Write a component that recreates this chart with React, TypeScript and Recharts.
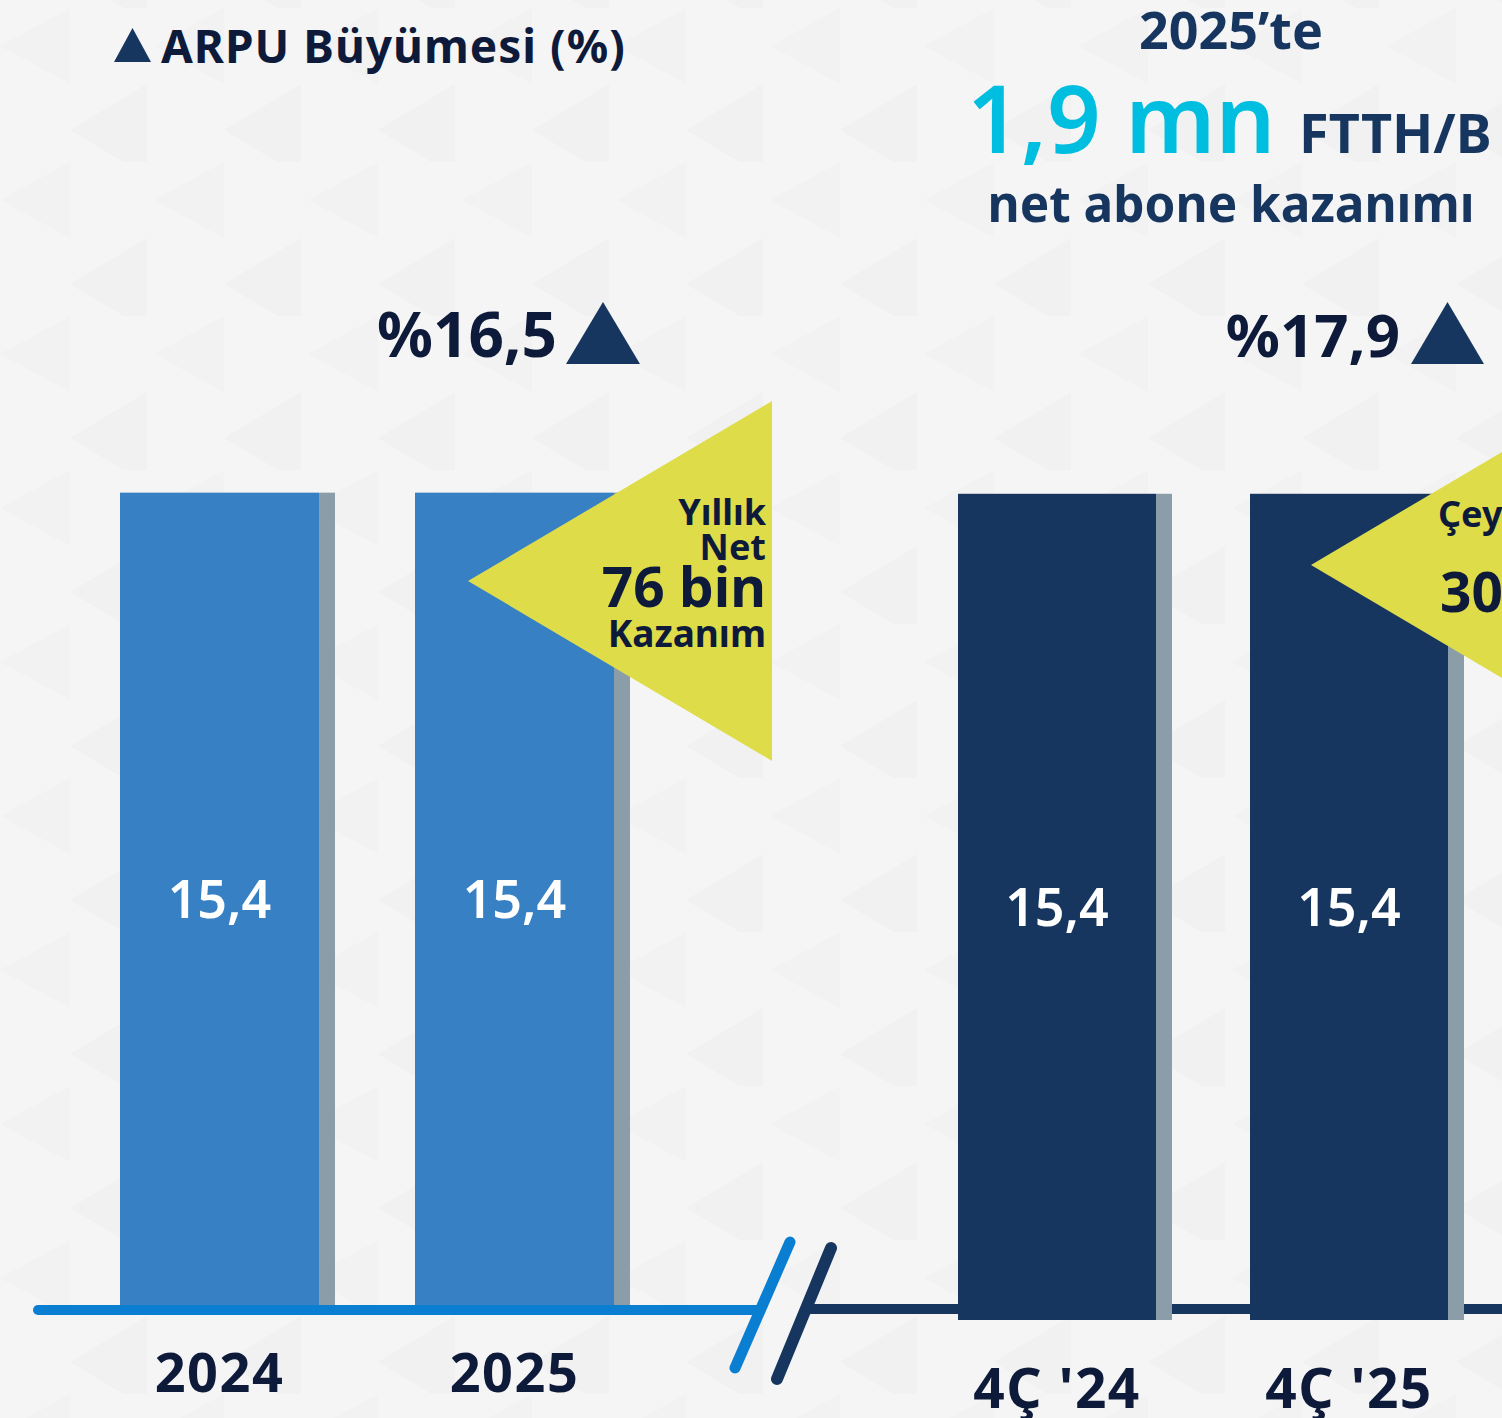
import React from 'react';
import { BarChart, Bar, XAxis, YAxis, LabelList } from 'recharts';

// annual bars (left panel) and quarterly bars (right panel)
const annualCategories = ['2024', '2025'];
const annualValues = [15.4, 15.4];
const quarterCategories = ["4Ç '24", "4Ç '25"];
const quarterValues = [15.4, 15.4];
const growthLabels = ['%16,5', '%17,9'];
const valueLabel = (v: number) => v.toFixed(1).replace('.', ',');

const FONT = '"Noto Sans", "Open Sans", sans-serif';
const NAVY = '#16365F';
const INK = '#0E1A3A';
const LIGHT = '#3880C4';
const SHADOW = '#8A9DA9';
const YELLOW = '#DFDC4A';

const annualData = annualCategories.map((name, i) => ({ name, value: annualValues[i] }));
const quarterData = quarterCategories.map((name, i) => ({ name, value: quarterValues[i] }));

const SHADE_W = 16;

const makeShape = (fill: string) => (props: any) => {
    const { x, y, width, height } = props;
    return (
        <g>
            <rect x={x + width - SHADE_W} y={y} width={SHADE_W} height={height} fill={SHADOW} />
            <rect x={x} y={y} width={width - SHADE_W} height={height} fill={fill} />
        </g>
    );
};

const makeTick = (dy: number, size: number) => (props: any) => {
    const { x, y, payload } = props;
    return (
        <text x={x - SHADE_W / 2} y={y + dy} textAnchor="middle" fill={INK}
            fontFamily={FONT} fontWeight={700} fontSize={size} letterSpacing={1.5}>
            {payload.value}
        </text>
    );
};

const renderValue = (props: any) => {
    const { x, y, width, height, value } = props;
    return (
        <text x={x + (width - SHADE_W) / 2} y={y + height / 2 + 19} textAnchor="middle"
            fill="#ffffff" fontFamily={FONT} fontWeight={600} fontSize={52}>
            {valueLabel(value)}
        </text>
    );
};

const Background = () => {
    return (
        <svg width={1502} height={1418} style={{ position: 'absolute', left: 0, top: 0 }}>
            <defs>
                <pattern id="tri" width={154} height={154} patternUnits="userSpaceOnUse" x={0} y={8}>
                    <polygon points="147,76 147,168 70,122" fill="#F1F1F1" />
                    <polygon points="70,0 70,76 0,38" fill="#F2F2F2" />
                </pattern>
            </defs>
            <rect width={1502} height={1418} fill="#F5F5F5" />
            <rect width={1502} height={1418} fill="url(#tri)" />
            <line x1={38} y1={1310} x2={760} y2={1310} stroke="#0A7FD2" strokeWidth={10} strokeLinecap="round" />
            <line x1={810} y1={1309} x2={1502} y2={1309} stroke={NAVY} strokeWidth={10} />
        </svg>
    );
};

const Overlay = () => {
    const tri1 = { tipX: 468, tipY: 581, right: 772, half: 180 };
    const tri2 = { tipX: 1311, tipY: 565, right: 1615, half: 180 };
    return (
        <svg width={1502} height={1418} style={{ position: 'absolute', left: 0, top: 0, pointerEvents: 'none' }}>
            {/* break marks */}
            <line x1={790} y1={1242} x2={735} y2={1368} stroke="#0A7FD2" strokeWidth={11} strokeLinecap="round" />
            <line x1={831} y1={1248} x2={777} y2={1379} stroke={NAVY} strokeWidth={12} strokeLinecap="round" />

            {/* legend */}
            <polygon points="114,62 132.5,28 151,62" fill={NAVY} />
            <text x={161} y={63} fill={INK} fontFamily={FONT} fontWeight={700} fontSize={46} letterSpacing={1}>ARPU Büyümesi (%)</text>

            {/* headline */}
            <text x={1231} y={49} textAnchor="middle" fill={NAVY} fontFamily={FONT} fontWeight={700} fontSize={52}>2025’te</text>
            <text x={967} y={153} fill="#00BEDF" fontFamily={FONT} fontWeight={600} fontSize={94}>1,9 mn</text>
            <text x={1299} y={153} fill={NAVY} fontFamily={FONT} fontWeight={700} fontSize={54}>FTTH/B</text>
            <text x={1231} y={222} textAnchor="middle" fill={NAVY} fontFamily={FONT} fontWeight={700} fontSize={49.5}>net abone kazanımı</text>

            {/* growth labels */}
            <text x={557} y={357} textAnchor="end" fill={INK} fontFamily={FONT} fontWeight={700} fontSize={62}>{growthLabels[0]}</text>
            <polygon points="566,364 603,302 640,364" fill={NAVY} />
            <text x={1400} y={357} textAnchor="end" fill={INK} fontFamily={FONT} fontWeight={700} fontSize={60}>{growthLabels[1]}</text>
            <polygon points="1411,364 1447.5,302 1484,364" fill={NAVY} />

            {/* callouts */}
            <polygon points={`${tri1.right},${tri1.tipY - tri1.half} ${tri1.right},${tri1.tipY + tri1.half} ${tri1.tipX},${tri1.tipY}`} fill={YELLOW} />
            <g fill={INK} fontFamily={FONT} fontWeight={700} textAnchor="end">
                <text x={766} y={525} fontSize={36}>Yıllık</text>
                <text x={766} y={560} fontSize={36}>Net</text>
                <text x={766} y={607} fontSize={55}>76 bin</text>
                <text x={766} y={647} fontSize={37}>Kazanım</text>
            </g>
            <polygon points={`${tri2.right},${tri2.tipY - tri2.half} ${tri2.right},${tri2.tipY + tri2.half} ${tri2.tipX},${tri2.tipY}`} fill={YELLOW} />
            <g fill={INK} fontFamily={FONT} fontWeight={700}>
                <text x={1438} y={527} fontSize={36}>Çeyreklik</text>
                <text x={1440} y={612} fontSize={55}>30</text>
            </g>
        </svg>
    );
};

export default function App() {
    return (
        <div style={{ position: 'absolute', left: 0, top: 0, width: 1502, height: 1418, overflow: 'hidden', background: '#F5F5F5' }}>
            <Background />

            <div style={{ position: 'absolute', left: 80, top: 0 }}>
                <BarChart width={590} height={1418} data={annualData} margin={{ top: 250, right: 0, bottom: 0, left: 0 }} barCategoryGap={0}>
                    <XAxis dataKey="name" height={113} axisLine={false} tickLine={false} tickSize={0}
                        interval={0} tick={makeTick(85, 54)} />
                    <YAxis hide domain={[0, 20]} />
                    <Bar dataKey="value" barSize={215} shape={makeShape(LIGHT)} isAnimationActive={false}>
                        <LabelList dataKey="value" content={renderValue} />
                    </Bar>
                </BarChart>
            </div>

            <div style={{ position: 'absolute', left: 919, top: 0 }}>
                <BarChart width={584} height={1418} data={quarterData} margin={{ top: 247, right: 0, bottom: 0, left: 0 }} barCategoryGap={0}>
                    <XAxis dataKey="name" height={98} axisLine={false} tickLine={false} tickSize={0}
                        interval={0} tick={makeTick(86, 55)} />
                    <YAxis hide domain={[0, 20]} />
                    <Bar dataKey="value" barSize={214} shape={makeShape(NAVY)} isAnimationActive={false}>
                        <LabelList dataKey="value" content={renderValue} />
                    </Bar>
                </BarChart>
            </div>

            <Overlay />
        </div>
    );
}
